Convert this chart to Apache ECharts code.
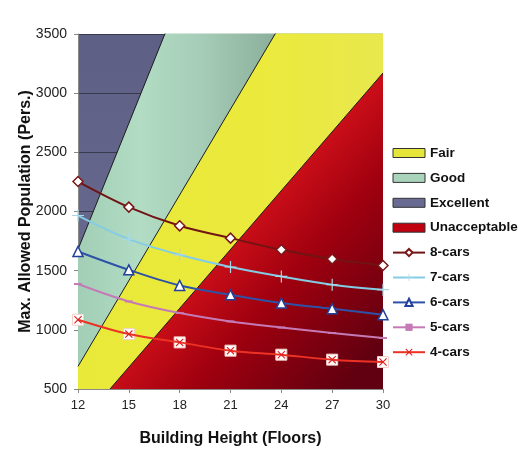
<!DOCTYPE html>
<html>
<head>
<meta charset="utf-8">
<script src="https://cdn.jsdelivr.net/npm/echarts@6/dist/echarts.min.js"></script>
<style>
  html, body { margin: 0; padding: 0; background: #ffffff; }
  #chart { width: 529px; height: 454px; }
</style>
</head>
<body>
<div id="chart"></div>
<script>
// ---- Data ----
var floors = [12, 15, 18, 21, 24, 27, 30];
var boundaryX = [12, 30];
// Region upper boundaries (Max. Allowed Population at 12 and 30 floors)
var excellentUpper = [3500, 3500];
var goodUpper = [1680, 8070];
var fairUpper = [691, 5038];
var unacceptableUpper = [187, 3171];

var cars8 = [2253, 2037, 1879, 1775, 1676, 1598, 1544];
var cars7 = [1966, 1767, 1634, 1531, 1451, 1381, 1339];
var cars6 = [1662, 1507, 1375, 1296, 1226, 1178, 1128];
var cars5 = [1387, 1240, 1142, 1071, 1020, 973, 931];
var cars4 = [1085, 964, 894, 824, 790, 748, 728];

var yTicks = { min: 500, max: 3500, step: 500 };
var xTicks = { min: 12, max: 30, step: 3 };

function pairs(xs, ys) { return xs.map(function (x, i) { return [x, ys[i]]; }); }

var FONT = 'Liberation Sans, Arial, sans-serif';
var X_PATH = 'path://M0,1 L1,0 L5,4 L9,0 L10,1 L6,5 L10,9 L9,10 L5,6 L1,10 L0,9 L4,5 Z';
var PLUS_PATH = 'path://M4.5,0 L5.5,0 L5.5,4.5 L10,4.5 L10,5.5 L5.5,5.5 L5.5,10 L4.5,10 L4.5,5.5 L0,5.5 L0,4.5 L4.5,4.5 Z';
var chart = echarts.init(document.getElementById('chart'));

function regionSeries(name, ys, solid, grad, z, lineW) {
  return {
    name: name, type: 'line', data: pairs(boundaryX, ys), z: z,
    clip: true, symbol: 'none', silent: true,
    color: solid,
    itemStyle: { color: solid },
    lineStyle: { color: '#1c1c1c', width: lineW },
    areaStyle: { color: grad, opacity: 1, origin: 'start' }
  };
}
function lin(x, y, x2, y2, stops) {
  return { type: 'linear', x: x, y: y, x2: x2, y2: y2,
    colorStops: stops.map(function (s) { return { offset: s[0], color: s[1] }; }) };
}

var option = {
  animation: false,
  backgroundColor: '#ffffff',
  grid: { left: 78, right: 146, top: 34, bottom: 65 },
  legend: {
    orient: 'vertical', left: 387, top: 141,
    itemWidth: 32, itemHeight: 9, itemGap: 10.9,
    textStyle: { fontFamily: FONT, fontSize: 13.5, fontWeight: 'bold', color: '#111' },
    data: [
      { name: 'Fair', icon: 'rect', itemStyle: { borderColor: '#333', borderWidth: 1 } },
      { name: 'Good', icon: 'rect', itemStyle: { borderColor: '#333', borderWidth: 1 } },
      { name: 'Excellent', icon: 'rect', itemStyle: { borderColor: '#333', borderWidth: 1 } },
      { name: 'Unacceptable', icon: 'rect', itemStyle: { borderColor: '#333', borderWidth: 1 } },
      '8-cars', '7-cars', '6-cars', '5-cars', '4-cars'
    ]
  },
  xAxis: {
    type: 'value', min: xTicks.min, max: xTicks.max, interval: xTicks.step, z: 7,
    name: 'Building Height (Floors)', nameLocation: 'middle', nameGap: 42,
    nameTextStyle: { fontFamily: FONT, fontSize: 16, fontWeight: 'bold', color: '#111' },
    axisLine: { lineStyle: { color: '#888', width: 1 } },
    axisTick: { show: true, length: 4, lineStyle: { color: '#888' } },
    axisLabel: { fontFamily: FONT, fontSize: 13, color: '#222', margin: 10 },
    splitLine: { show: false }
  },
  yAxis: {
    type: 'value', min: yTicks.min, max: yTicks.max, interval: yTicks.step, z: 2,
    name: 'Max. Allowed Population (Pers.)', nameLocation: 'middle', nameGap: 44,
    nameMoveOverlap: false,
    nameTextStyle: { fontFamily: FONT, fontSize: 16, fontWeight: 'bold', color: '#111' },
    axisLine: { show: true, lineStyle: { color: '#888', width: 1 } },
    axisTick: { show: true, length: 4, lineStyle: { color: '#888' } },
    axisLabel: { fontFamily: FONT, fontSize: 14, color: '#222', margin: 11,
      formatter: function (v) { return String(v); } },
    splitLine: { show: true, lineStyle: { color: '#3a3a4e', width: 1 } }
  },
  series: [
    regionSeries('Excellent', excellentUpper, '#6a6b92',
      lin(0, 0, 0, 1, [[0, '#5e5f84'], [1, '#6c6e94']]), 1, 0),
    regionSeries('Good', goodUpper, '#a9d3bb',
      lin(0, 0, 1, 0, [[0, '#a2ceb6'], [0.2, '#b2dcc4'], [0.4, '#a6cdb7'], [0.65, '#8aae9a'], [1, '#8aae9a']]), 3, 1),
    regionSeries('Fair', fairUpper, '#e6e63a',
      lin(0, 0, 1, 0, [[0, '#e9e93a'], [0.6, '#ebea3c'], [1, '#e8e84e']]), 3, 1),
    regionSeries('Unacceptable', unacceptableUpper, '#c0000f',
      lin(0, 0, 1, 0.77, [[0, '#e0141c'], [0.55, '#cc0f19'], [0.72, '#a0000f'], [1, '#600010']]), 3, 1),
    {
      name: '8-cars', type: 'line', data: pairs(floors, cars8), smooth: 0.35, z: 5,
      color: '#7a1616',
      lineStyle: { color: '#701414', width: 2 },
      symbol: 'diamond', symbolSize: 10,
      itemStyle: { color: '#ffffff', borderColor: '#7a1818', borderWidth: 1.5 }
    },
    {
      name: '7-cars', type: 'line', data: pairs(floors, cars7), smooth: 0.35, z: 5,
      color: '#84cce4',
      lineStyle: { color: '#84cce4', width: 2 },
      symbol: PLUS_PATH, symbolSize: 12,
      itemStyle: { color: '#a8d8e8' }
    },
    {
      name: '6-cars', type: 'line', data: pairs(floors, cars6), smooth: 0.35, z: 5,
      color: '#23409a',
      lineStyle: { color: '#2d52a6', width: 2 },
      symbol: 'triangle', symbolSize: 10,
      itemStyle: { color: '#ffffff', borderColor: '#23409a', borderWidth: 1.5 }
    },
    {
      name: '5-cars', type: 'line', data: pairs(floors, cars5), smooth: 0.35, z: 5,
      color: '#c57ab6',
      lineStyle: { color: '#c57ab6', width: 2 },
      symbol: 'rect', symbolSize: [8, 2],
      itemStyle: { color: '#c57ab6' }
    },
    {
      name: '4-cars marker box', type: 'line', data: pairs(floors, cars4), z: 5,
      lineStyle: { width: 0, opacity: 0 },
      symbol: 'rect', symbolSize: 11,
      itemStyle: { color: '#ffffff', borderColor: '#f3d0c8', borderWidth: 1 }
    },
    {
      name: '4-cars', type: 'line', data: pairs(floors, cars4), smooth: 0.35, z: 6,
      color: '#e02020',
      lineStyle: { color: '#ec3224', width: 2 },
      symbol: X_PATH, symbolSize: 8,
      itemStyle: { color: '#e02020' }
    }
  ]
};
chart.setOption(option);
</script>
</body>
</html>
